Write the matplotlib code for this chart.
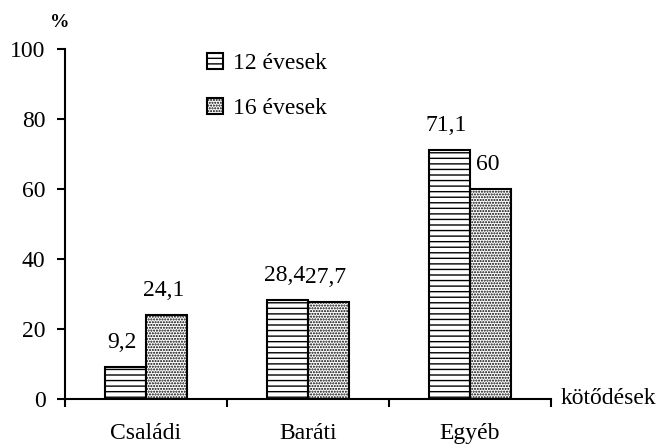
import numpy as np
import matplotlib
matplotlib.use('Agg')
import matplotlib.pyplot as plt
from matplotlib.patches import Patch

plt.rcParams['font.family'] = ['Liberation Serif', 'DejaVu Serif']
plt.rcParams['hatch.linewidth'] = 1.0

# data
categories = ['Családi', 'Baráti', 'Egyéb']
series_names = ['12 évesek', '16 évesek']
v12 = [9.2, 28.4, 71.1]
v16 = [24.1, 27.7, 60]
lab12 = ['9,2', '28,4', '71,1']
lab16 = ['24,1', '27,7', '60']

fs = 17

fig = plt.figure(figsize=(6.6, 4.46), dpi=100)
ax = fig.add_axes([0.0985, 0.1054, 0.7365, 0.7848])

x = np.arange(len(categories))
w = 0.255
ax.bar(x - w/2, v12, w, color='white', edgecolor='black', linewidth=1.5, hatch='---')
ax.bar(x + w/2, v16, w, color='white', edgecolor='black', linewidth=1.5, hatch='......')

for xi, v, t in zip(x - w/2, v12, lab12):
    ax.text(xi - 0.02, v + 4.0, t, ha='center', va='bottom', fontsize=fs)
for xi, v, t in zip(x + w/2, v16, lab16):
    ax.text(xi - 0.02, v + 4.0, t, ha='center', va='bottom', fontsize=fs)

ax.set_xlim(-0.5, 2.5)
ax.set_ylim(0, 100)
ax.set_yticks([0, 20, 40, 60, 80, 100])
ax.set_xticks([-0.5, 0.5, 1.5, 2.5])
ax.set_xticklabels([])
for xi, c in zip(x, categories):
    ax.text(xi, -7.0, c, ha='center', va='top', fontsize=fs)

ax.spines['top'].set_visible(False)
ax.spines['right'].set_visible(False)
ax.spines['left'].set_linewidth(1.5)
ax.spines['bottom'].set_linewidth(1.5)
ax.tick_params(axis='both', direction='out', length=6, width=1.5, labelsize=fs, pad=8)

ax.text(-0.53, 107.5, '%', ha='center', va='center', fontsize=14, fontweight='bold')
ax.text(2.56, 0.2, 'kötődések', ha='left', va='center', fontsize=fs)

handles = [Patch(facecolor='white', edgecolor='black', hatch='---', linewidth=1.5),
           Patch(facecolor='white', edgecolor='black', hatch='......', linewidth=1.5)]
ax.legend(handles, series_names, loc='upper left', bbox_to_anchor=(0.248, 1.049),
          frameon=False, fontsize=fs, handlelength=0.68, handleheight=0.68,
          handletextpad=0.42, labelspacing=1.0)

fig.savefig('out.png', dpi=100)
